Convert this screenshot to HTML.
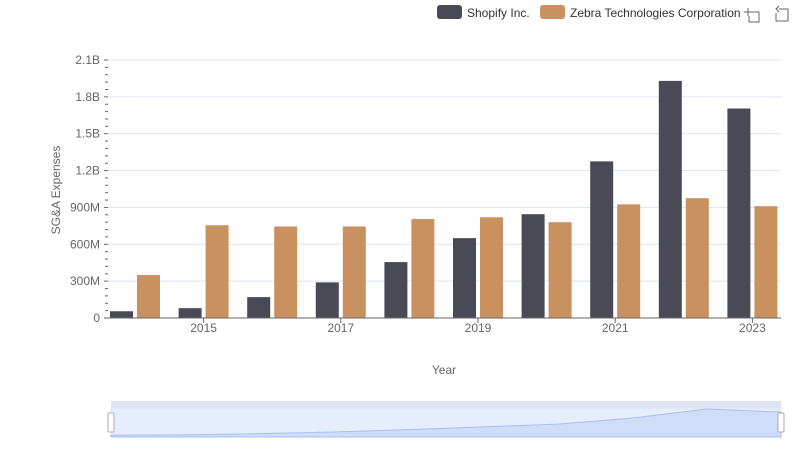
<!DOCTYPE html>
<html><head><meta charset="utf-8"><style>
body{margin:0;background:#fff;font-family:"Liberation Sans",sans-serif}
svg{display:block}
</style></head><body>
<svg id="c" width="800" height="461" font-family="Liberation Sans, sans-serif">
  <g>
    <g><rect x="437" y="5" width="25" height="14" rx="3" fill="#4a4a56"/><text x="467" y="17" font-size="12" fill="#333">Shopify Inc.</text></g>
    <g><rect x="540" y="5" width="25" height="14" rx="3" fill="#c8915f"/><text x="570" y="17" font-size="12" fill="#333">Zebra Technologies Corporation</text></g>
    <g stroke="#666" fill="none"><path d="M748 8v8M744 12h8M751 12h8v10h-10v-6"/></g>
    <g stroke="#666" fill="none"><path d="M779 9h9v12h-12v-8M779 6l-3 3 3 3"/></g>
  </g>
  <g id="grid"></g><g id="bars"></g><g id="axes"></g>
  <text x="60" y="190" font-size="12" fill="#666" transform="rotate(-90 60 190)" text-anchor="middle">SG&amp;A Expenses</text>
  <text x="444" y="374" font-size="12" fill="#666" text-anchor="middle">Year</text>
  <g>
    <rect x="111" y="401" width="670" height="7" fill="#dde3f1"/>
    <rect x="111" y="408" width="670" height="29" fill="#e6edfc" stroke="#dde3f1"/>
    <path id="mini" fill="#d0ddf8" stroke="#a8c0f0"/>
    <rect x="108" y="413" width="6" height="19" rx="1" fill="#fff" stroke="#aab"/>
    <rect x="778" y="413" width="6" height="19" rx="1" fill="#fff" stroke="#aab"/>
  </g>
</svg>
<script>
const years=[2014,2015,2016,2017,2018,2019,2020,2021,2022,2023];
const shopify=[55,80,170,290,455,650,845,1275,1930,1705];
const zebra=[350,755,745,745,805,820,780,925,975,910];
const yTicks=[0,300,600,900,1200,1500,1800,2100];
const yLabels=["0","300M","600M","900M","1.2B","1.5B","1.8B","2.1B"];
const NS="http://www.w3.org/2000/svg";
const x0=108,band=68.6,yBase=318,yTop=60,yMax=2100;
const y=v=>yBase-(v/yMax)*(yBase-yTop);
const xb=i=>x0+i*band;
function mk(t,a,p){const e=document.createElementNS(NS,t);for(const k in a)e.setAttribute(k,a[k]);p.appendChild(e);return e;}
const grid=document.getElementById('grid'),bars=document.getElementById('bars'),axes=document.getElementById('axes');
yTicks.forEach((v,i)=>{
  if(v>0){const l=mk('line',{x1:x0,x2:781,y1:y(v),y2:y(v),stroke:'#dde3f1'},grid);
  
  }
  const t=mk('text',{x:100,y:y(v)+4,'font-size':12,fill:'#666','text-anchor':'end'},axes);t.textContent=yLabels[i];
  
  
});
for(let v=60;v<yMax;v+=60){if(v%300)mk('line',{x1:105,x2:108,y1:y(v),y2:y(v),stroke:'#666'},axes);}
yTicks.forEach(v=>mk('line',{x1:104,x2:108,y1:y(v),y2:y(v),stroke:'#666'},axes));
mk('line',{x1:x0,x2:781,y1:yBase,y2:yBase,stroke:'#666'},axes);
years.forEach((yr,i)=>{
  const b1=mk('rect',{x:xb(i)+2,y:y(shopify[i]),width:23,height:yBase-y(shopify[i]),fill:'#4a4a56'},bars);
  
  
  const b2=mk('rect',{x:xb(i)+29,y:y(zebra[i]),width:23,height:yBase-y(zebra[i]),fill:'#c8915f'},bars);
  
  
  if(i%2==1){const cx=xb(i)+27;
    mk('line',{x1:cx,x2:cx,y1:yBase,y2:yBase+5,stroke:'#666'},axes);
    const t=mk('text',{x:cx,y:332,'font-size':12,fill:'#666','text-anchor':'middle'},axes);t.textContent=yr;
    
    }
});
let d='M111 437';const mx=670/(years.length-1);
shopify.forEach((v,i)=>{d+=' L'+(111+i*mx)+' '+(436-v/yMax*28*1.05);});
d+=' L781 437Z';document.getElementById('mini').setAttribute('d',d);
</script>
</body></html>
